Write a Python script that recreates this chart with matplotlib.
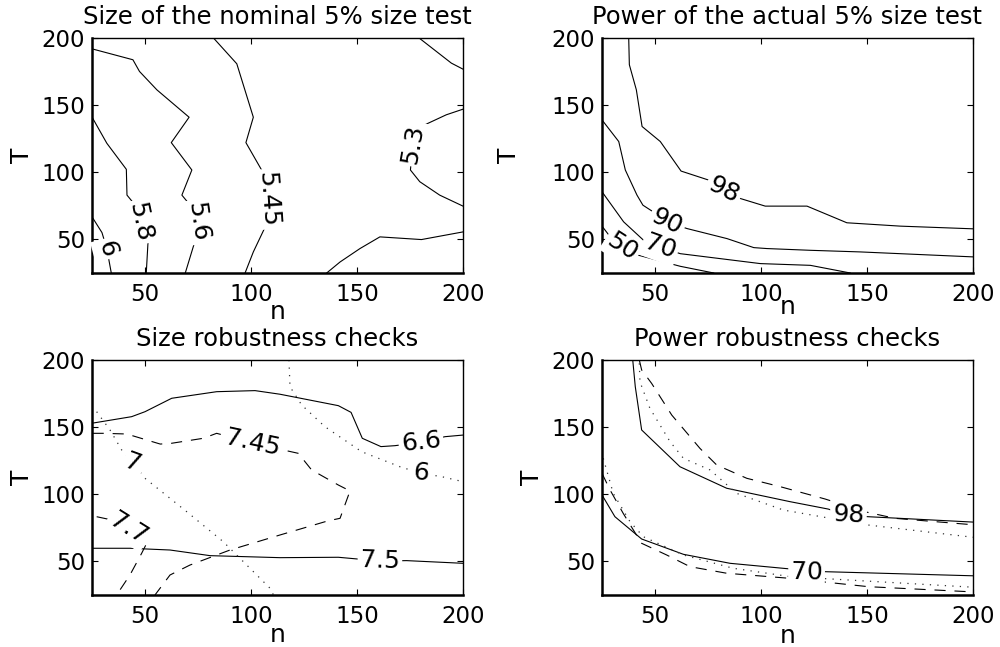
import matplotlib
matplotlib.use("Agg")
import matplotlib.pyplot as plt

plt.rcParams['font.family'] = ['DejaVu Sans']

# ---------------- data (contour lines) ----------------
n_ticks = [50, 100, 150, 200]
T_ticks = [50, 100, 150, 200]

# Panel 1: Size of the nominal 5% size test
p1_c6_n = [25.5, 29.7, 32.0, 34.1]
p1_c6_T = [65.6, 55.1, 43.0, 25.0]
p1_c58_n = [25.3, 32.0, 41.2, 41.5, 45.4, 47.8, 51.4, 50.6]
p1_c58_T = [140.3, 121.6, 102.2, 83.0, 75.5, 63.0, 47.4, 25.0]
p1_c56_n = [25.3, 44.3, 47.4, 55.6, 70.8, 62.4, 72.1, 67.4, 71.3, 75.2, 73.7, 69.0]
p1_c56_T = [191.8, 183.8, 175.1, 161.4, 141.0, 122.1, 101.7, 83.0, 75.5, 63.1, 49.4, 25.0]
p1_c545_n = [82.3, 93.3, 101.1, 97.6, 105.0, 108.2, 108.2, 101.1, 97.2]
p1_c545_T = [200.0, 180.8, 141.0, 122.1, 101.7, 81.8, 64.3, 40.7, 25.0]
p1_c53a_n = [179.3, 194.5, 200.0]
p1_c53a_T = [200.0, 181.3, 176.8]
p1_c53b_n = [200.0, 192.1, 181.9, 176.4, 175.2, 179.6, 189.0, 200.0]
p1_c53b_T = [147.0, 142.8, 135.3, 121.6, 101.7, 93.0, 83.0, 74.8]
p1_c53c_n = [200.0, 180.4, 160.8, 151.4, 142.0, 135.7]
p1_c53c_T = [55.6, 49.9, 51.9, 43.2, 33.2, 25.0]

# Panel 2: Power of the actual 5% size test
p2_c98_n = [37.6, 37.9, 41.2, 43.9, 52.5, 62.3, 75.3, 82.4, 90.2, 102.0, 121.7, 140.5, 165.7, 200.0]
p2_c98_T = [200.0, 180.1, 161.4, 134.1, 122.9, 100.9, 94.2, 86.8, 80.5, 74.8, 74.8, 62.4, 59.9, 57.9]
p2_c90_n = [25.0, 32.9, 36.0, 41.5, 44.3, 49.1, 55.7, 65.1, 84.0, 96.6, 102.8, 123.3, 146.8, 200.0]
p2_c90_T = [139.0, 122.9, 101.7, 83.0, 75.5, 70.6, 63.1, 58.1, 50.6, 43.9, 43.2, 41.9, 40.7, 37.0]
p2_c70_n = [25.0, 35.2, 44.6, 52.5, 61.9, 99.7, 123.3, 142.1]
p2_c70_T = [85.5, 63.1, 49.4, 44.4, 39.4, 32.0, 30.7, 25.0]
p2_c50_n = [25.0, 28.9, 34.4, 42.3, 61.9, 77.7]
p2_c50_T = [59.9, 51.9, 44.4, 38.2, 30.0, 25.0]

# Panel 3: Size robustness checks
p3_s66_n = [24.9, 43.7, 50.0, 62.6, 83.8, 101.9, 113.7, 141.2, 147.2, 152.5, 161.3, 167.9, 180.2, 191.5, 200.0]
p3_s66_T = [152.9, 157.8, 161.5, 171.5, 176.4, 177.2, 174.5, 166.0, 161.0, 141.7, 135.5, 136.2, 138.7, 142.9, 144.1]
p3_s75_n = [25.0, 42.9, 61.8, 80.7, 113.7, 141.2, 160.8, 173.4, 200.0]
p3_s75_T = [59.8, 59.8, 58.5, 54.3, 52.8, 53.1, 50.3, 50.6, 48.6]
p3_d745_n = [25.3, 30.3, 41.4, 57.2, 62.6, 77.5, 83.8, 101.0, 122.3, 128.6, 141.2, 146.7, 142.0, 136.5,
             113.7, 90.1, 71.2, 61.8, 54.7]
p3_d745_T = [145.4, 145.4, 144.9, 137.4, 138.0, 141.7, 145.4, 138.0, 130.5, 118.1, 106.9, 102.5, 82.1, 80.3,
             69.7, 58.5, 47.3, 39.9, 25.0]
p3_d77_n = [27.2, 34.3, 42.1, 50.8, 48.4, 42.9, 36.6]
p3_d77_T = [83.3, 80.9, 74.7, 63.5, 56.0, 39.9, 25.0]
p3_o7_n = [27.2, 33.5, 39.0, 44.5, 50.0, 69.7, 86.9, 96.4, 109.0, 110.6]
p3_o7_T = [161.5, 147.9, 133.0, 123.0, 111.9, 87.0, 64.7, 49.8, 30.0, 25.0]
p3_o6_n = [117.9, 118.4, 123.9, 134.9, 152.2, 170.3, 180.2, 190.0, 200.0]
p3_o6_T = [200.0, 180.1, 166.5, 150.3, 131.7, 120.5, 115.6, 113.1, 109.4]

# Panel 4: Power robustness checks
p4_s98_n = [39.5, 40.7, 43.7, 61.8, 83.8, 113.7, 131.7, 141.2, 150.6, 200.0]
p4_s98_T = [200.0, 180.1, 147.9, 120.5, 104.5, 94.5, 89.0, 84.1, 83.3, 79.3]
p4_d98_n = [42.6, 43.7, 48.4, 57.9, 71.2, 79.1, 93.3, 109.0, 130.2, 149.0, 163.2, 200.0]
p4_d98_T = [200.0, 192.6, 182.6, 159.0, 134.2, 121.8, 111.9, 105.7, 96.5, 87.0, 82.1, 77.3]
p4_o98_n = [42.6, 42.9, 47.6, 57.1, 63.4, 76.0, 88.5, 110.5, 150.6, 200.0]
p4_o98_T = [197.5, 183.8, 164.0, 139.2, 126.8, 118.1, 100.7, 88.3, 77.1, 68.0]
p4_s70_n = [25.0, 31.1, 43.7, 63.4, 85.4, 113.7, 121.5, 129.4, 200.0]
p4_s70_T = [99.5, 83.3, 66.7, 55.3, 48.6, 44.4, 41.9, 42.4, 39.3]
p4_d70_n = [25.0, 28.8, 35.0, 39.8, 43.7, 55.5, 66.5, 83.8, 113.7, 150.6, 200.0]
p4_d70_T = [115.6, 103.2, 85.8, 73.4, 63.5, 54.8, 46.1, 41.2, 37.4, 31.2, 27.3]
p4_o70_n = [25.6, 30.3, 38.2, 44.5, 63.4, 86.9, 113.7, 155.1, 200.0]
p4_o70_T = [126.8, 100.7, 79.6, 68.4, 54.8, 44.9, 38.7, 34.9, 30.8]

titles = ["Size of the nominal 5% size test", "Power of the actual 5% size test",
          "Size robustness checks", "Power robustness checks"]

# contour labels: (text, n, T, rotation)
p1_labels = [("6", 32.0, 43.0, -75), ("5.8", 47.8, 63.0, -78), ("5.6", 75.0, 63.0, -82),
             ("5.45", 108.2, 80.0, -86), ("5.3", 176.4, 121.0, 80)]
p2_labels = [("98", 82.4, 86.8, -27), ("90", 55.7, 63.1, -26), ("70", 52.5, 44.4, -20),
             ("50", 34.4, 44.4, -33)]
p3_labels = [("7.45", 101.0, 138.5, -12), ("6.6", 180.2, 138.7, 6), ("6", 180.2, 115.6, -6),
             ("7.5", 160.8, 50.3, -2), ("7", 44.5, 123.0, -20), ("7.7", 42.1, 74.7, -32)]
p4_labels = [("98", 141.2, 84.4, -3), ("70", 121.5, 42.2, -1)]

# ---------------- drawing ----------------
W, H = 1000, 647
fig = plt.figure(figsize=(W / 100, H / 100), dpi=100)

axes_px = [(92, 38), (602, 38), (92, 360), (602, 360)]
aw, ah = 371, 235
axs = [fig.add_axes([x / W, 1 - (y + ah) / H, aw / W, ah / H]) for x, y in axes_px]

SOLID = dict(color='black', lw=0.8, ls='-')
DASH = dict(color='black', lw=0.8, ls=(0, (10, 8)))
DOT = dict(color='#333333', lw=0.9, ls=(0, (1, 5)))

lines = [
    [(p1_c6_n, p1_c6_T, SOLID), (p1_c58_n, p1_c58_T, SOLID), (p1_c56_n, p1_c56_T, SOLID),
     (p1_c545_n, p1_c545_T, SOLID), (p1_c53a_n, p1_c53a_T, SOLID), (p1_c53b_n, p1_c53b_T, SOLID),
     (p1_c53c_n, p1_c53c_T, SOLID)],
    [(p2_c98_n, p2_c98_T, SOLID), (p2_c90_n, p2_c90_T, SOLID), (p2_c70_n, p2_c70_T, SOLID),
     (p2_c50_n, p2_c50_T, SOLID)],
    [(p3_s66_n, p3_s66_T, SOLID), (p3_s75_n, p3_s75_T, SOLID), (p3_d745_n, p3_d745_T, DASH),
     (p3_d77_n, p3_d77_T, DASH), (p3_o7_n, p3_o7_T, DOT), (p3_o6_n, p3_o6_T, DOT)],
    [(p4_s98_n, p4_s98_T, SOLID), (p4_d98_n, p4_d98_T, DASH), (p4_o98_n, p4_o98_T, DOT),
     (p4_s70_n, p4_s70_T, SOLID), (p4_d70_n, p4_d70_T, DASH), (p4_o70_n, p4_o70_T, DOT)],
]
labels = [p1_labels, p2_labels, p3_labels, p4_labels]

ylab_x = [-0.19, -0.25, -0.19, -0.19]
xlab_y = [-0.195, -0.175, -0.20, -0.205]

for i, ax in enumerate(axs):
    for xs, ys, st in lines[i]:
        ax.plot(xs, ys, **st)
    for txt, x, y, rot in labels[i]:
        ax.text(x, y, txt, rotation=rot, ha='center', va='center', fontsize=18,
                rotation_mode='anchor', zorder=5,
                bbox=dict(boxstyle='square,pad=0.1', fc='white', ec='none'))
    ax.set_xlim(25, 200)
    ax.set_ylim(25, 200)
    ax.set_xticks(n_ticks)
    ax.set_yticks(T_ticks)
    ax.tick_params(direction='in', length=4, width=0.8, top=True, right=True,
                   labelsize=16.5, pad=5)
    ax.tick_params(axis='x', pad=7)
    for s in ['left', 'bottom']:
        ax.spines[s].set_linewidth(1.8)
    for s in ['top', 'right']:
        ax.spines[s].set_linewidth(1.0)
    ax.set_title(titles[i], fontsize=17.5, pad=10)
    ax.set_xlabel('n', fontsize=18)
    ax.set_ylabel('T', fontsize=18)
    ax.xaxis.set_label_coords(0.5, xlab_y[i])
    ax.xaxis.label.set_va('baseline')
    ax.yaxis.set_label_coords(ylab_x[i], 0.5)
    ax.yaxis.label.set_va('center')

fig.savefig('out.png', dpi=100)
